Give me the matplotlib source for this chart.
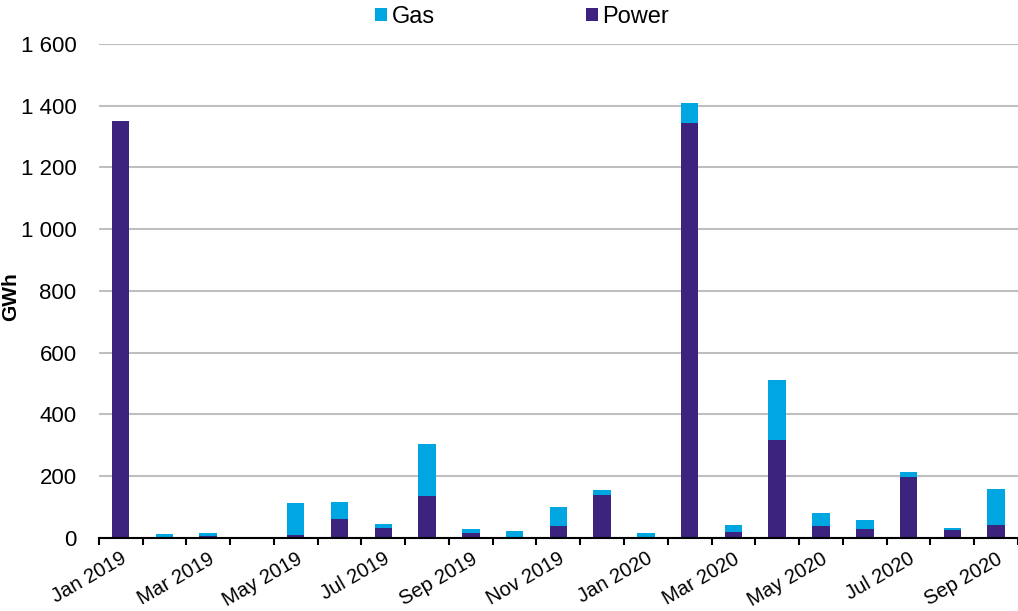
import matplotlib
matplotlib.use("Agg")
import matplotlib.pyplot as plt
import numpy as np
from matplotlib.ticker import FuncFormatter

plt.rcParams['font.family'] = ['Liberation Sans', 'DejaVu Sans']

months = ["Jan 2019", "Feb 2019", "Mar 2019", "Apr 2019", "May 2019", "Jun 2019",
          "Jul 2019", "Aug 2019", "Sep 2019", "Oct 2019", "Nov 2019", "Dec 2019",
          "Jan 2020", "Feb 2020", "Mar 2020", "Apr 2020", "May 2020", "Jun 2020",
          "Jul 2020", "Aug 2020", "Sep 2020"]
power = [1350, 2, 7, 0, 10, 61, 33, 135, 15, 3, 38, 138, 0, 1345, 18, 317, 38, 30, 197, 25, 41]
gas = [0, 12, 9, 2, 104, 57, 12, 170, 14, 21, 62, 16, 15, 65, 25, 195, 44, 28, 17, 8, 119]
yticks = [0, 200, 400, 600, 800, 1000, 1200, 1400, 1600]

gas_color = "#00A6E1"
power_color = "#3C237E"

fig = plt.figure(figsize=(10.18, 6.11), dpi=100)
ax = fig.add_axes([0.097, 0.1195, 0.903, 0.8085])

x = np.arange(len(months))
w = 0.4
ax.bar(x, power, width=w, color=power_color, label="Power", zorder=3)
ax.bar(x, gas, width=w, bottom=power, color=gas_color, label="Gas", zorder=3)

ax.set_xlim(-0.5, len(months) - 0.5)
ax.set_ylim(0, 1600)
ax.set_yticks(yticks)
ax.yaxis.set_major_formatter(FuncFormatter(lambda v, p: f"{int(v):,}".replace(",", " ")))
ax.tick_params(axis='y', length=0, labelsize=16, pad=16)
ax.grid(axis='y', color="#BFBFBF", linewidth=1.5, zorder=0)

ax.set_xticks(x[::2])
ax.set_xticklabels(months[::2], rotation=30, ha='right', rotation_mode='anchor', fontsize=14.5)
ax.tick_params(axis='x', which='major', length=0, pad=8)
ax.set_xticks(np.arange(len(months) + 1) - 0.5, minor=True)
ax.tick_params(axis='x', which='minor', length=5, width=1.5, color='black')

for s in ['left', 'right', 'top']:
    ax.spines[s].set_visible(False)
ax.spines['bottom'].set_linewidth(1.5)
ax.spines['bottom'].set_zorder(4)

ax.set_ylabel("GWh", fontsize=15, fontweight='bold')
ax.yaxis.set_label_coords(-0.086, 0.488)

handles, labels = ax.get_legend_handles_labels()
fig.legend([handles[1], handles[0]], [labels[1], labels[0]], loc='center',
           bbox_to_anchor=(0.513, 0.972), ncol=2, frameon=False, fontsize=17,
           handlelength=0.5, handleheight=0.5, handletextpad=0.2, columnspacing=6.4,
           borderpad=0, borderaxespad=0)

fig.savefig("out.png", dpi=100)
